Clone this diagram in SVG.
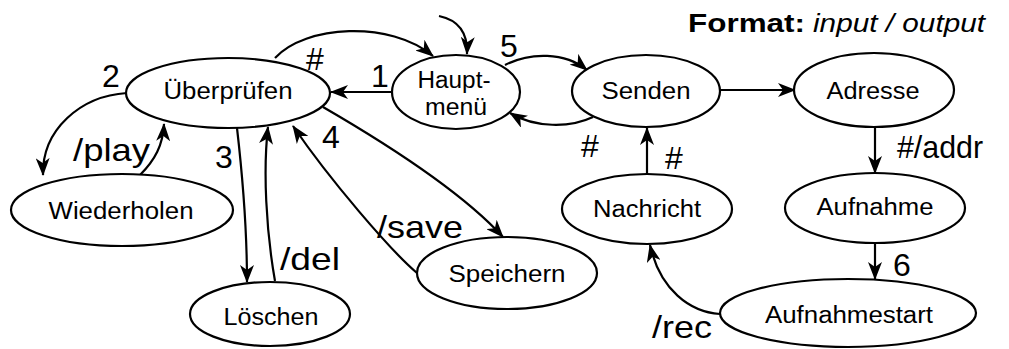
<svg xmlns="http://www.w3.org/2000/svg" width="1009" height="349" viewBox="0 0 1009 349">
<style>
  .n ellipse { fill: #fff; stroke: #000; stroke-width: 2.2; }
  .n text { font-family: "Liberation Sans", Arial, sans-serif; font-size: 23.5px; fill: #000; text-anchor: middle; }
  .e path { fill: none; stroke: #000; stroke-width: 2.2; marker-end: url(#ah); }
  .lbl { font-family: "Liberation Sans", Arial, sans-serif; font-size: 32px; fill: #000; }
  .fmt { font-family: "Liberation Sans", Arial, sans-serif; font-size: 25px; fill: #000; }
</style>
<defs>
  <marker id="ah" markerUnits="userSpaceOnUse" markerWidth="18" markerHeight="14" viewBox="0 0 18 14" refX="17" refY="7" orient="auto">
    <path d="M0,0 L18,7 L0,14 L5,7 z" fill="#000"/>
  </marker>
</defs>
<rect width="1009" height="349" fill="#fff"/>

<g id="connectors" class="e">
  <path d="M439,16 C458,20 468,32 467,54"/>
  <path d="M392,92 L331,92"/>
  <path d="M275,58 C305,25 390,20 433,56"/>
  <path d="M505,65 C530,52 565,52 587,70"/>
  <path d="M593,117 C570,128 535,128 510,113"/>
  <path d="M720,90 L795,90"/>
  <path d="M875,127 L875,173"/>
  <path d="M875,242 L875,279"/>
  <path d="M720,314 C690,312 660,290 650,245"/>
  <path d="M647,175 L647,128"/>
  <path d="M127,93 C80,96 42,130 43,175"/>
  <path d="M140,175 C155,160 163,145 164,124"/>
  <path d="M237,128 C243,180 247,230 247,282"/>
  <path d="M275,281 C266,230 263,170 268,127"/>
  <path d="M417,273 C390,250 330,180 293,126"/>
  <path d="M323,107 C380,140 460,190 503,237"/>
</g>

<g id="labels">
  <text class="lbl" x="102" y="87">2</text>
  <text class="lbl" x="306" y="70">#</text>
  <text class="lbl" x="371" y="87">1</text>
  <text class="lbl" x="500" y="57">5</text>
  <text class="lbl" x="581" y="157">#</text>
  <text class="lbl" x="665" y="169">#</text>
  <text class="lbl" x="897" y="158" textLength="86" lengthAdjust="spacingAndGlyphs">#/addr</text>
  <text class="lbl" x="893" y="276">6</text>
  <text class="lbl" x="652" y="338" textLength="60" lengthAdjust="spacingAndGlyphs">/rec</text>
  <text class="lbl" x="73" y="161" textLength="77" lengthAdjust="spacingAndGlyphs">/play</text>
  <text class="lbl" x="215" y="168">3</text>
  <text class="lbl" x="322" y="148">4</text>
  <text class="lbl" x="280" y="270" textLength="60" lengthAdjust="spacingAndGlyphs">/del</text>
  <text class="lbl" x="377" y="238" textLength="86" lengthAdjust="spacingAndGlyphs">/save</text>
  <text class="fmt" x="688" y="32" textLength="117" lengthAdjust="spacingAndGlyphs" font-weight="bold">Format:</text>
  <text class="fmt" x="813" y="32" textLength="172" lengthAdjust="spacingAndGlyphs" font-style="italic">input / output</text>
</g>

<g id="ueberpruefen" class="n">
  <ellipse cx="228" cy="93" rx="102" ry="35"/>
  <text x="228" y="99" textLength="129" lengthAdjust="spacingAndGlyphs">Überprüfen</text>
</g>
<g id="hauptmenue" class="n">
  <ellipse cx="456" cy="92" rx="64" ry="37"/>
  <text x="454" y="88" textLength="73" lengthAdjust="spacingAndGlyphs">Haupt-</text>
  <text x="456" y="115" textLength="62" lengthAdjust="spacingAndGlyphs">menü</text>
</g>
<g id="senden" class="n">
  <ellipse cx="646" cy="91" rx="74" ry="36"/>
  <text x="646" y="99" textLength="89" lengthAdjust="spacingAndGlyphs">Senden</text>
</g>
<g id="adresse" class="n">
  <ellipse cx="874" cy="90" rx="80" ry="37"/>
  <text x="873" y="99" textLength="93" lengthAdjust="spacingAndGlyphs">Adresse</text>
</g>
<g id="wiederholen" class="n">
  <ellipse cx="122" cy="210" rx="111" ry="36"/>
  <text x="121" y="219" textLength="145" lengthAdjust="spacingAndGlyphs">Wiederholen</text>
</g>
<g id="nachricht" class="n">
  <ellipse cx="647" cy="209" rx="85" ry="35"/>
  <text x="647" y="217" textLength="108" lengthAdjust="spacingAndGlyphs">Nachricht</text>
</g>
<g id="aufnahme" class="n">
  <ellipse cx="875" cy="208" rx="90" ry="35"/>
  <text x="875" y="215" textLength="117" lengthAdjust="spacingAndGlyphs">Aufnahme</text>
</g>
<g id="speichern" class="n">
  <ellipse cx="507" cy="273" rx="90" ry="36"/>
  <text x="507" y="282" textLength="117" lengthAdjust="spacingAndGlyphs">Speichern</text>
</g>
<g id="loeschen" class="n">
  <ellipse cx="270" cy="314" rx="80" ry="32"/>
  <text x="271" y="325" textLength="95" lengthAdjust="spacingAndGlyphs">Löschen</text>
</g>
<g id="aufnahmestart" class="n">
  <ellipse cx="848" cy="313" rx="128" ry="34"/>
  <text x="849" y="323" textLength="168" lengthAdjust="spacingAndGlyphs">Aufnahmestart</text>
</g>
</svg>
